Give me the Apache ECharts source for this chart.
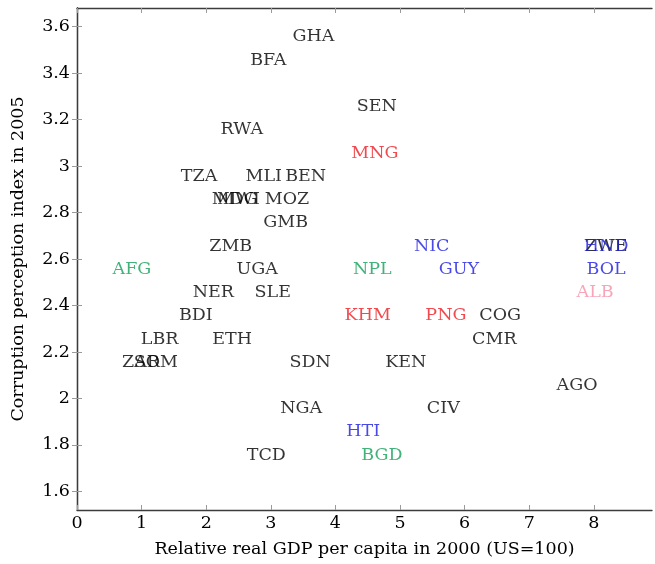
<!DOCTYPE html>
<html>
<head>
<meta charset="utf-8">
<script src="https://cdn.jsdelivr.net/npm/echarts@6/dist/echarts.min.js"></script>
<style>
  html, body { margin: 0; padding: 0; background: #fff; }
  #chart { width: 655px; height: 564px; }
</style>
</head>
<body>
<div id="chart"></div>
<script>
// Country codes, relative GDP per capita (US=100) and CPI 2005
const codes = ['GHA','BFA','SEN','RWA','MNG','TZA','MLI','BEN','MDG','MWI','MOZ','GMB','ZMB','NIC','ZWE','HND',
  'AFG','UGA','NPL','GUY','BOL','NER','SLE','ALB','BDI','KHM','PNG','COG','LBR','ETH','CMR',
  'ZAR','SOM','SDN','KEN','AGO','NGA','CIV','HTI','BGD','TCD'];
const gdp = [3.66, 2.96, 4.64, 2.55, 4.61, 1.89, 2.89, 3.54, 2.44, 2.50, 3.25, 3.23, 2.38, 5.49, 8.19, 8.19,
  0.85, 2.79, 4.57, 5.91, 8.19, 2.11, 3.03, 8.02, 1.84, 4.50, 5.71, 6.55, 1.28, 2.40, 6.46,
  0.99, 1.22, 3.61, 5.09, 7.74, 3.47, 5.67, 4.43, 4.72, 2.93];
const cpi = [3.5, 3.4, 3.2, 3.1, 3.0, 2.9, 2.9, 2.9, 2.8, 2.8, 2.8, 2.7, 2.6, 2.6, 2.6, 2.6,
  2.5, 2.5, 2.5, 2.5, 2.5, 2.4, 2.4, 2.4, 2.3, 2.3, 2.3, 2.3, 2.2, 2.2, 2.2,
  2.1, 2.1, 2.1, 2.1, 2.0, 1.9, 1.9, 1.8, 1.7, 1.7];
// Region of each country
const region = ['SSA','SSA','SSA','SSA','EAP','SSA','SSA','SSA','SSA','SSA','SSA','SSA','SSA','LAC','SSA','LAC',
  'SAS','SSA','SAS','LAC','LAC','SSA','SSA','ECA','SSA','EAP','EAP','SSA','SSA','SSA','SSA',
  'SSA','SSA','SSA','SSA','SSA','SSA','SSA','LAC','SAS','SSA'];

const xTicks = [0, 1, 2, 3, 4, 5, 6, 7, 8];
const yTicks = [1.6, 1.8, 2.0, 2.2, 2.4, 2.6, 2.8, 3.0, 3.2, 3.4, 3.6];

const regionColor = {
  SSA: '#000000',
  EAP: '#ee1c22',
  SAS: '#12a058',
  LAC: '#1c1ce0',
  ECA: '#f590a8'
};

const FONT = 'DejaVu Serif';
const FS = 17.5;
const TEXT = '#000000';

const points = codes.map((c, i) => ({
  value: [gdp[i], cpi[i]],
  name: c,
  label: { color: regionColor[region[i]] }
}));

const frameLine = { show: true, lineStyle: { color: '#3c3c3c', width: 1.3 } };
const innerTick = { show: true, inside: true, length: 5, lineStyle: { color: '#9a9a9a', width: 1 } };

const xBase = { type: 'value', min: 0, max: 8.9, splitLine: { show: false }, axisLine: frameLine };
const yBase = { type: 'value', min: 1.52, max: 3.68, splitLine: { show: false }, axisLine: frameLine };

const chart = echarts.init(document.getElementById('chart'), null, { renderer: 'canvas' });
chart.setOption({
  animation: false,
  backgroundColor: '#fff',
  grid: { left: 77, right: 3, top: 8, bottom: 54, containLabel: false },
  xAxis: [
    Object.assign({}, xBase, {
      position: 'bottom',
      name: 'Relative real GDP per capita in 2000 (US=100)',
      nameLocation: 'middle',
      nameGap: 30,
      nameTextStyle: { fontFamily: FONT, fontSize: FS, color: TEXT },
      axisTick: Object.assign({ customValues: xTicks }, innerTick),
      axisLabel: { customValues: xTicks, margin: 4, fontFamily: FONT, fontSize: FS, color: TEXT }
    }),
    Object.assign({}, xBase, {
      position: 'top',
      axisTick: Object.assign({ customValues: xTicks }, innerTick),
      axisLabel: { show: false }
    })
  ],
  yAxis: [
    Object.assign({}, yBase, {
      position: 'left',
      name: 'Corruption perception index in 2005',
      nameLocation: 'middle',
      nameGap: 50,
      nameTextStyle: { fontFamily: FONT, fontSize: FS, color: TEXT },
      axisTick: Object.assign({ customValues: yTicks }, innerTick),
      axisLabel: {
        customValues: yTicks, margin: 7, fontFamily: FONT, fontSize: FS, color: TEXT,
        formatter: v => String(Math.round(v * 10) / 10)
      }
    }),
    Object.assign({}, yBase, {
      position: 'right',
      axisTick: Object.assign({ customValues: yTicks }, innerTick),
      axisLabel: { show: false }
    })
  ],
  series: [{
    type: 'scatter',
    xAxisIndex: 0,
    yAxisIndex: 0,
    symbolSize: 0,
    data: points,
    label: {
      show: true,
      position: 'inside',
      offset: [0, -13],
      formatter: p => p.name,
      fontFamily: FONT,
      fontSize: FS
    },
    emphasis: { disabled: true }
  }]
});
</script>
</body>
</html>
